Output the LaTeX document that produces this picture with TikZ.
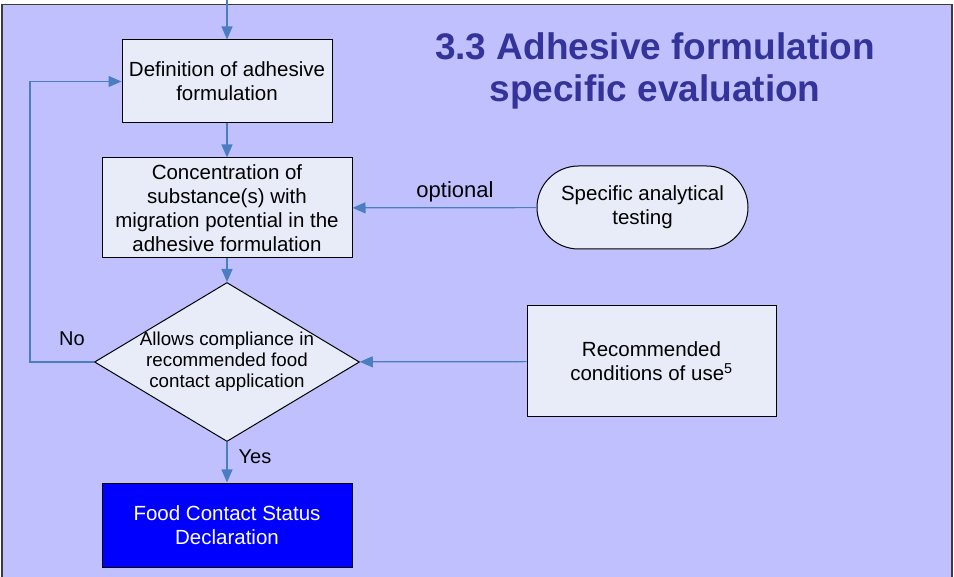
\documentclass[tikz,border=0pt]{standalone}
\usepackage{fontspec}
\setmainfont{Liberation Sans}
\usetikzlibrary{shapes.geometric,arrows.meta}
\definecolor{bg}{RGB}{192,192,255}
\definecolor{boxfill}{RGB}{231,236,248}
\definecolor{arrowc}{RGB}{74,126,193}
\definecolor{titlec}{RGB}{51,51,153}
\definecolor{framec}{RGB}{60,60,60}
\begin{document}
\begin{tikzpicture}[x=1pt,y=-1pt,
  box/.style={draw=black, line width=1pt, fill=boxfill, align=center, font=\fontsize{20.5}{24}\selectfont, inner sep=0pt},
  conn/.style={draw=arrowc, line width=1.2pt, -{Triangle[length=13pt,width=11pt]}},
  lbl/.style={font=\fontsize{20}{24}\selectfont}]
\useasboundingbox (0,0) rectangle (954,577);
\fill[white] (0,0) rectangle (954,577);
\clip (0,0) rectangle (954,577);
\draw[fill=bg, draw=framec, line width=1.5pt] (2,4.5) rectangle (952,600);

\node[align=center, text=titlec, font=\fontsize{37}{42}\bfseries\selectfont] (title) at (655,71) {3.3 Adhesive formulation\\specific evaluation};

\node[box, minimum width=210pt, minimum height=83pt] (def) at (227,81.5) {Definition of adhesive\\formulation};
\node[box, minimum width=250pt, minimum height=100pt] (conc) at (227,208) {Concentration of\\substance(s) with\\migration potential in the\\adhesive formulation};
\node[draw=black, line width=1pt, fill=boxfill, shape=diamond, minimum width=265pt, minimum height=159pt, inner sep=0pt] (dec) at (227,362) {};
\node[align=center, font=\fontsize{18.75}{21}\selectfont, inner sep=0pt] (dectext) at (dec.center) {Allows compliance in\\recommended food\\contact application};
\node[box, fill=blue, text=white, minimum width=250pt, minimum height=84pt] (fcs) at (227,525) {Food Contact Status\\Declaration};
\node[box, rounded corners=41.5pt, minimum width=211pt, minimum height=83pt] (sat) at (642.5,207.5) {Specific analytical\\testing};
\node[box, minimum width=249pt, minimum height=111pt] (rec) at (651.5,361.5) {Recommended\\conditions of use\textsuperscript{5}};

\coordinate (topin) at (227,0);
\draw[conn] (topin) -- (def);
\draw[conn] (def) -- (conc);
\draw[conn] (conc) -- (dec);
\draw[conn] (dec) -- (fcs);
\draw[conn] (sat) -- (conc);
\draw[conn] (rec) -- (dec);
\draw[conn] (dec.west) -- ++(-64,0) |- (def.west);

\node[lbl, font=\fontsize{22}{24}\selectfont] (opt) at (455,192) {optional};
\node[lbl] (no) at (72,339) {No};
\node[lbl] (yes) at (255,457) {Yes};
\end{tikzpicture}
\end{document}
